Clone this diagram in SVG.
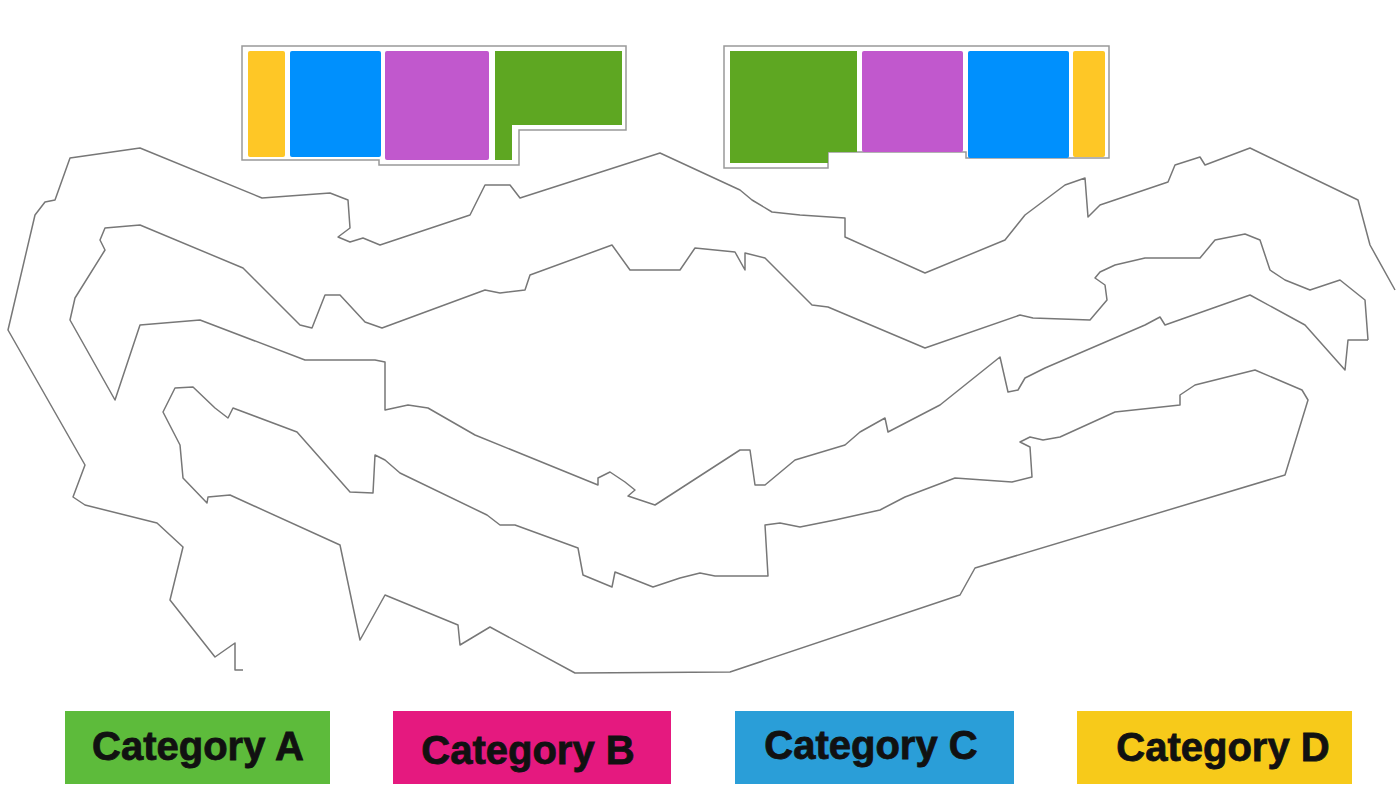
<svg xmlns="http://www.w3.org/2000/svg" width="1400" height="800" viewBox="0 0 1400 800">
<style>
.c{fill:none;stroke:#777;stroke-width:1.5;stroke-linejoin:round}
.o{fill:#fff;stroke:#999;stroke-width:1.5}
.g{fill:#5ea722}.p{fill:#c158cd}.b{fill:#0090fd}.y{fill:#fec726}
.t{font-family:"Liberation Sans",Arial,sans-serif;font-weight:bold;font-size:40px;fill:#111;text-anchor:middle;stroke:#111;stroke-width:0.8}
</style>
<rect width="1400" height="800" fill="#fff"/>
<g id="contours">
<polyline class="c" points="1395,290 1370,245 1358,200 1250,148 1205,165 1200,157 1175,165 1168,182 1100,205 1088,217 1085,178 1065,185 1025,215 1005,240 925,273 845,237 845,218 800,215 772,212 752,200 740,190 660,153 520,198 510,185 485,185 470,215 380,245 363,238 350,242 338,237 350,228 348,200 330,193 262,198 140,148 70,158 55,200 45,202 35,215 8,330 85,465 73,497 85,505 157,523 183,547 170,600 215,657 235,643 235,670 243,670"/>
<polyline class="c" points="1368,340 1365,300 1340,280 1310,290 1285,280 1270,270 1260,240 1245,234 1215,240 1200,258 1145,258 1115,265 1100,272 1095,278 1105,285 1107,300 1090,320 1033,318 1020,315 925,348 828,307 812,305 765,258 745,253 745,270 735,252 695,248 680,270 630,270 612,245 530,275 525,290 500,293 485,290 382,328 365,322 340,295 325,295 312,328 300,325 243,268 140,225 105,228 100,240 105,250 75,298 70,320 115,400 140,325 200,320 305,360 375,360 385,362 385,410 408,405 428,408 475,435 598,485 598,478 610,472 625,482 635,490 628,496 655,505 740,450 750,450 755,485 765,485 795,460 845,445 860,432 885,418 888,432 940,405 1000,357 1008,392 1018,390 1025,378 1045,368 1145,325 1160,317 1165,325 1250,295 1305,325 1345,370 1348,340 1368,340"/>
<polygon class="c" points="1285,475 1308,400 1302,390 1255,370 1195,385 1180,395 1180,405 1115,412 1060,437 1043,440 1030,437 1020,442 1030,447 1032,477 1012,482 955,478 905,497 880,510 835,520 800,527 780,523 765,525 768,576 735,576 715,576 700,573 680,578 653,587 615,572 612,587 583,575 578,548 515,525 500,525 487,515 400,473 385,460 375,455 373,493 350,492 297,432 233,408 228,418 215,408 193,387 175,388 163,412 180,445 183,478 207,503 208,497 230,495 340,545 360,640 385,595 458,625 460,645 490,627 575,673 730,672 960,595 975,568"/>
</g>
<g id="building-left">
<path class="o" d="M242,46 H626 V130 H519 V165 H379 V160 H242 Z"/>
<rect class="y" x="248" y="51" width="37" height="106" rx="2"/>
<rect class="b" x="290" y="51" width="91" height="106" rx="2"/>
<rect class="p" x="385" y="51" width="104" height="109" rx="2"/>
<path class="g" d="M495,51 H622 V125 H512 V160 H495 Z"/>
</g>
<g id="building-right">
<path class="o" d="M724,46 H1109 V158 H966 V152 H828 V168 H724 Z"/>
<path class="g" d="M730,51 H857 V152 H828 V163 H730 Z"/>
<rect class="p" x="862" y="51" width="101" height="101" rx="2"/>
<rect class="b" x="968" y="51" width="101" height="107" rx="2"/>
<rect class="y" x="1073" y="51" width="32" height="106" rx="2"/>
</g>
<g id="legend-a"><rect x="65" y="711" width="265" height="73" fill="#5dbb3b"/><text class="t" x="198" y="760">Category A</text></g>
<g id="legend-b"><rect x="393" y="711" width="278" height="73" fill="#e5197f"/><text class="t" x="528" y="764">Category B</text></g>
<g id="legend-c"><rect x="735" y="711" width="279" height="73" fill="#2a9ed8"/><text class="t" x="871" y="759">Category C</text></g>
<g id="legend-d"><rect x="1077" y="711" width="275" height="73" fill="#f7ca1a"/><text class="t" x="1223" y="761">Category D</text></g>
</svg>
